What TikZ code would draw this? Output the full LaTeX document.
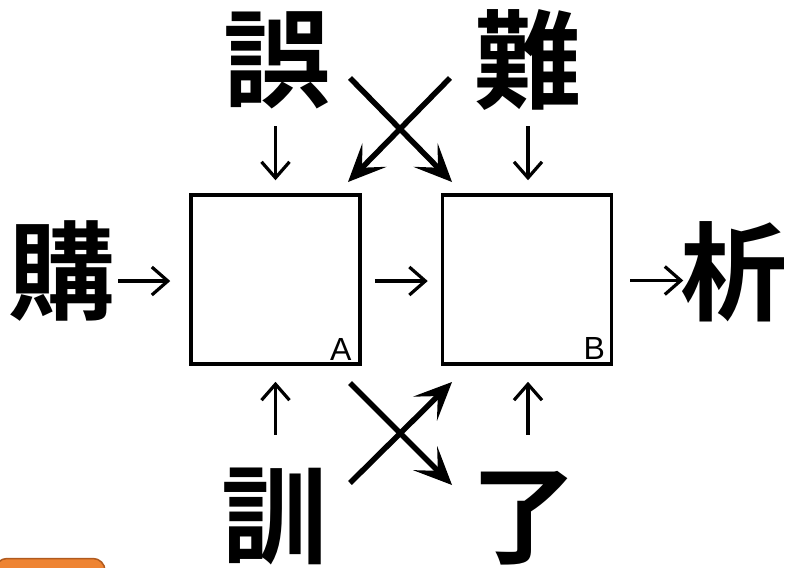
\documentclass[tikz,border=0pt]{standalone}
\usepackage{fontspec}
\setmainfont{Liberation Sans}
\newfontfamily\cjk{Noto Sans CJK JP Bold}
\usetikzlibrary{arrows.meta}
\definecolor{tabfill}{HTML}{EE8433}
\definecolor{tabedge}{HTML}{B05A1E}
\tikzset{
  box/.style={draw, line width=3.5pt, minimum width=169pt, minimum height=169pt, inner sep=0pt},
  kan/.style={font=\cjk\fontsize{107}{107}\selectfont, inner sep=0pt, text height=94pt, text depth=13pt},
  corner/.style={font=\fontsize{32}{32}\selectfont, inner sep=0pt, anchor=south east},
  small/.style={line width=3.2pt, -{Straight Barb[length=16pt,width=28pt]}},
  big/.style={line width=5.5pt, -{Stealth[length=38pt,width=34pt,inset=18pt,line width=2pt]}},
}
\begin{document}
\begin{tikzpicture}[x=1pt,y=-1pt]
\useasboundingbox (0,0) rectangle (788,568);
\clip (0,0) rectangle (788,568);
% orange tab
\filldraw[fill=tabfill, draw=tabedge, line width=1.5pt, rounded corners=12pt]
  (-5,600) -- (-5,558.5) -- (105,558.5) -- (105,600);
% boxes
\node[box] (A) at (275.5,279.5) {};
\node[box] (B) at (527,279.5) {};
\node[corner] (la) at ([xshift=-10pt,yshift=5pt]A.south east) {A};
\node[corner] (lb) at ([xshift=-8pt,yshift=6pt]B.south east) {B};
% characters
\node[kan] (wu) at (277,59) {誤};
\node[kan] (nan) at (528,60) {難};
\node[kan] (kou) at (62,271) {購};
\node[kan] (seki) at (734,272) {析};
\node[kan] (kun) at (275,515) {訓};
\node[kan] (ryo) at (524,515) {了};
% small arrows
\draw[small] ([yshift=67pt]A.north) -- ([yshift=13pt]A.north);
\draw[small] ([yshift=67pt,xshift=1pt]B.north) -- ([yshift=13pt,xshift=1pt]B.north);
\draw[small] ([yshift=-69pt]A.south) -- ([yshift=-16pt]A.south);
\draw[small] ([yshift=-69pt,xshift=1pt]B.south) -- ([yshift=-16pt,xshift=1pt]B.south);
\draw[small] ([xshift=13pt,yshift=-1.5pt]A.east) -- ([xshift=-13pt,yshift=-1.5pt]B.west);
\draw[small] ([xshift=-71pt,yshift=-1.5pt]A.west) -- ([xshift=-19pt,yshift=-1.5pt]A.west);
\draw[small] ([xshift=17pt,yshift=-1pt]B.east) -- ([xshift=70pt,yshift=-1pt]B.east);
% crossing arrows
\coordinate (t1) at (350,78);
\coordinate (t2) at (450,78);
\coordinate (b1) at (350,383);
\coordinate (b2) at (350,483);
\coordinate (ta) at (348,182);
\coordinate (tb) at (452,182);
\coordinate (ba) at (452,485);
\coordinate (bb) at (452,382);
\draw[big] (t1) -- (tb);
\draw[big] (t2) -- (ta);
\draw[big] (b1) -- (ba);
\draw[big] (b2) -- (bb);
\end{tikzpicture}
\end{document}
